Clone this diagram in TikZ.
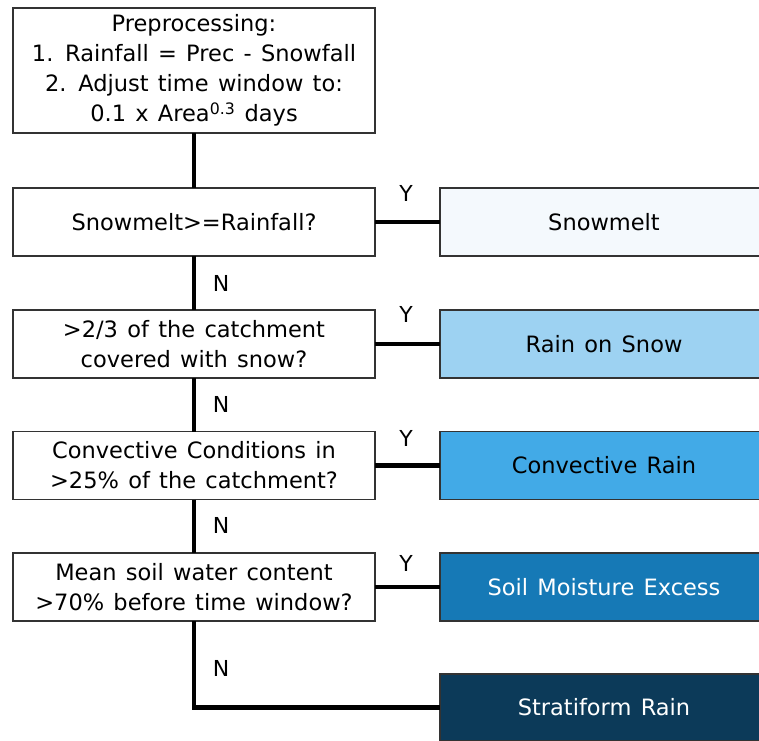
\documentclass[tikz,border=0pt]{standalone}
\usepackage{fontspec}
\setmainfont[WordSpace=1.3]{DejaVu Sans}
\usetikzlibrary{positioning}
\definecolor{c_snow}{HTML}{F4F9FD}
\definecolor{c_ros}{HTML}{9DD2F2}
\definecolor{c_conv}{HTML}{42AAE7}
\definecolor{c_soil}{HTML}{1679B6}
\definecolor{c_strat}{HTML}{0C3A59}
\tikzset{
	box/.style = {draw=black!80, line width=1.5pt, rectangle, inner sep=0pt,
		outer sep=0pt, align=center, text centered,
		font=\fontsize{22.5}{30}\selectfont},
	ques/.style = {box, fill=white, minimum width=362pt, minimum height=68pt},% question
	res/.style = {box, minimum width=328pt, minimum height=68pt},% resulting type
	lbl/.style = {font=\fontsize{22}{25}\selectfont, inner sep=0pt},% Y / N
	wire/.style = {line width=4.5pt, black}
}
\begin{document}
\begin{tikzpicture}[x=1pt,y=-1pt]
	\useasboundingbox (0,0) rectangle (759,740);
	% questions
	\node [ques, minimum height=125pt] (pre) at (194,70.5)
		{Preprocessing:\\1. Rainfall = Prec - Snowfall\\2. Adjust time window to:\\0.1 x Area\textsuperscript{0.3} days};
	\node [ques] (q1) at (194,222) {Snowmelt>=Rainfall?};
	\node [ques] (q2) at (194,344) {>2/3 of the catchment\\covered with snow?};
	\node [ques] (q3) at (194,465.5) {Convective Conditions in\\>25\% of the catchment?};
	\node [ques] (q4) at (194,587) {Mean soil water content\\>70\% before time window?};
	% results
	\node [res, fill=c_snow] (snow) at (604,222) {Snowmelt};
	\node [res, fill=c_ros] (ros) at (604,344) {Rain on Snow};
	\node [res, fill=c_conv] (conv) at (604,465.5) {Convective Rain};
	\node [res, fill=c_soil, text=white] (soil) at (604,587) {Soil Moisture Excess};
	\node [res, fill=c_strat, text=white, minimum height=67pt] (strat) at (604,707.5) {Stratiform Rain};
	% connectors
	\draw [wire] (pre) -- (q1);
	\foreach \a/\b in {q1/q2, q2/q3, q3/q4}
		\draw [wire] (\a) -- (\b);
	\foreach \a/\b in {q1/snow, q2/ros, q3/conv, q4/soil}
		\draw [wire] (\a.east) -- (\b.west);
	\draw [wire] (q4.south) |- (strat.west);
	% labels
	\foreach \y in {193, 314, 438, 563}
		\node [lbl] at (406,\y) {Y};
	\foreach \y [count=\i] in {283, 404, 525, 668}
		\node [lbl] (n\i) at (221,\y) {N};
\end{tikzpicture}
\end{document}
